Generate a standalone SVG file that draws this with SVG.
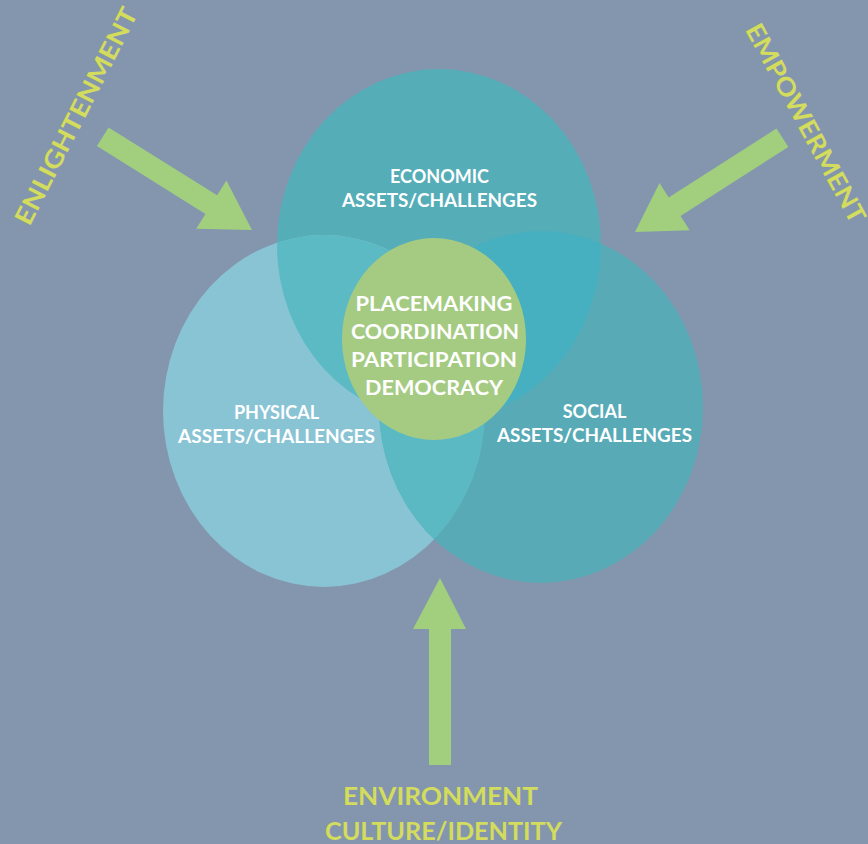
<svg xmlns="http://www.w3.org/2000/svg" width="868" height="844" viewBox="0 0 868 844">
<style>
.lbl{font-family:Lato,"Open Sans","Liberation Sans",sans-serif;font-weight:bold;fill:#ffffff;text-anchor:middle}
.ylw{font-family:Lato,"Open Sans","Liberation Sans",sans-serif;font-weight:bold;fill:#d3dc5c;text-anchor:middle}
.arrow{fill:#a2cf7e}
</style>
<defs>
<clipPath id="clipE"><ellipse cx="439" cy="245" rx="162" ry="176"/></clipPath>
<clipPath id="clipP"><ellipse cx="324" cy="411" rx="161" ry="176"/></clipPath>
</defs>
<rect width="868" height="844" fill="#8496ae"/>
<g id="economic">
<ellipse cx="439" cy="245" rx="162" ry="176" fill="#55adb8"/>
</g>
<g id="physical">
<ellipse cx="324" cy="411" rx="161" ry="176" fill="#89c4d5"/>
</g>
<g id="social">
<ellipse cx="541" cy="407" rx="162" ry="176" fill="#58abb6"/>
</g>
<g id="overlaps">
<ellipse cx="324" cy="411" rx="161" ry="176" fill="#5cbac4" clip-path="url(#clipE)"/>
<ellipse cx="541" cy="407" rx="162" ry="176" fill="#5bb9c4" clip-path="url(#clipP)"/>
<ellipse cx="541" cy="407" rx="162" ry="176" fill="#46b0c1" clip-path="url(#clipE)"/>
</g>
<g id="center">
<ellipse cx="434" cy="339" rx="92" ry="101" fill="#a5cb83"/>
<text class="lbl" x="434" y="311" font-size="21" textLength="157" lengthAdjust="spacingAndGlyphs">PLACEMAKING</text>
<text class="lbl" x="435" y="339" font-size="21" textLength="168" lengthAdjust="spacingAndGlyphs">COORDINATION</text>
<text class="lbl" x="434" y="367" font-size="21" textLength="166" lengthAdjust="spacingAndGlyphs">PARTICIPATION</text>
<text class="lbl" x="434" y="395" font-size="21" textLength="138" lengthAdjust="spacingAndGlyphs">DEMOCRACY</text>
</g>
<g id="economic-label">
<text class="lbl" x="439.5" y="183" font-size="18">ECONOMIC</text>
<text class="lbl" x="439.5" y="207" font-size="18" textLength="195" lengthAdjust="spacingAndGlyphs">ASSETS/CHALLENGES</text>
</g>
<g id="physical-label">
<text class="lbl" x="276.5" y="419" font-size="18">PHYSICAL</text>
<text class="lbl" x="276.5" y="443" font-size="18" textLength="197" lengthAdjust="spacingAndGlyphs">ASSETS/CHALLENGES</text>
</g>
<g id="social-label">
<text class="lbl" x="594.5" y="418" font-size="18">SOCIAL</text>
<text class="lbl" x="594.5" y="442" font-size="18" textLength="195" lengthAdjust="spacingAndGlyphs">ASSETS/CHALLENGES</text>
</g>
<g id="connectors">
<path class="arrow" transform="translate(252,230) rotate(32)" d="M-176,-11 L-48,-11 L-48,-28.5 L0,0 L-48,28.5 L-48,11 L-176,11 Z"/>
<path class="arrow" transform="translate(635,232) rotate(147.4)" d="M-175,-11 L-47,-11 L-47,-28 L0,0 L-47,28 L-47,11 L-175,11 Z"/>
<path class="arrow" d="M429,765 L429,629 L413,629 L440,578 L466,629 L451,629 L451,765 Z"/>
</g>
<g id="enlightenment">
<text class="ylw" transform="translate(76,116) rotate(-63)" x="0" y="9" font-size="25" textLength="240" lengthAdjust="spacingAndGlyphs">ENLIGHTENMENT</text>
</g>
<g id="empowerment">
<text class="ylw" transform="translate(806,123) rotate(61.4)" x="0" y="9" font-size="25" textLength="223" lengthAdjust="spacingAndGlyphs">EMPOWERMENT</text>
</g>
<g id="environment">
<text class="ylw" x="440.5" y="805" font-size="25" textLength="195" lengthAdjust="spacingAndGlyphs">ENVIRONMENT</text>
<text class="ylw" x="443.5" y="840" font-size="25" textLength="237" lengthAdjust="spacingAndGlyphs">CULTURE/IDENTITY</text>
</g>
</svg>
